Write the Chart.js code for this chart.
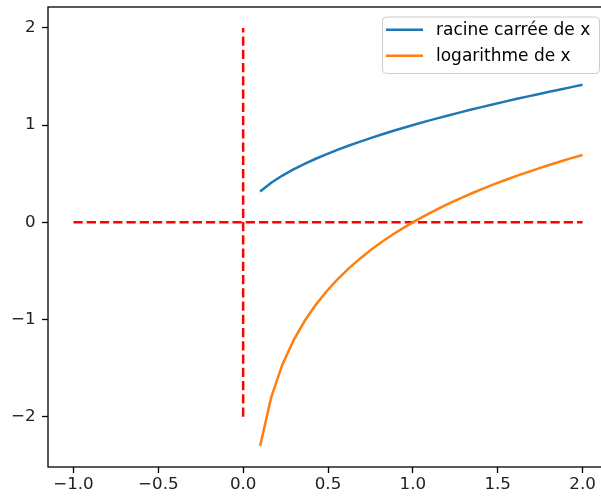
<!DOCTYPE html>
<html lang="fr">
<head>
  <meta charset="UTF-8">
  <title>Racine carrée et logarithme</title>
  <script src="https://cdn.jsdelivr.net/npm/chart.js"></script>
  <style>
    html, body {
      margin: 0;
      padding: 0;
      background: #ffffff;
      overflow: hidden;
    }
    #wrap {
      width: 601px;
      height: 498px;
      overflow: hidden;
    }
    #chart {
      display: block;
    }
  </style>
</head>
<body>
  <div id="wrap">
    <canvas id="chart" width="612" height="498"></canvas>
  </div>

  <script>
    // x values (0.1 .. 2.0, 30 points)
    const xs = [0.1000, 0.1655, 0.2310, 0.2966, 0.3621, 0.4276, 0.4931, 0.5586, 0.6241, 0.6897,
                0.7552, 0.8207, 0.8862, 0.9517, 1.0172, 1.0828, 1.1483, 1.2138, 1.2793, 1.3448,
                1.4103, 1.4759, 1.5414, 1.6069, 1.6724, 1.7379, 1.8034, 1.8690, 1.9345, 2.0000];
    const sqrtVals = [0.3162, 0.4069, 0.4807, 0.5446, 0.6017, 0.6539, 0.7022, 0.7474, 0.7900, 0.8305,
                      0.8690, 0.9059, 0.9414, 0.9756, 1.0086, 1.0406, 1.0716, 1.1017, 1.1311, 1.1597,
                      1.1876, 1.2149, 1.2415, 1.2676, 1.2932, 1.3183, 1.3429, 1.3671, 1.3909, 1.4142];
    const logVals = [-2.3026, -1.7989, -1.4652, -1.2155, -1.0159, -0.8496, -0.7070, -0.5823, -0.4714, -0.3716,
                     -0.2808, -0.1976, -0.1208, -0.0495, 0.0171, 0.0796, 0.1383, 0.1938, 0.2464, 0.2963,
                     0.3438, 0.3893, 0.4327, 0.4743, 0.5143, 0.5527, 0.5897, 0.6254, 0.6598, 0.6931];

    // red dashed reference lines
    const hLineX = [-1, 2];
    const hLineY = [0, 0];
    const vLineX = [0, 0];
    const vLineY = [-2, 2];

    const xTicks = [-1.0, -0.5, 0.0, 0.5, 1.0, 1.5, 2.0];
    const yTicks = [-2, -1, 0, 1, 2];

    const labels = ['racine carrée de x', 'logarithme de x'];

    const toPoints = (xa, ya) => xa.map((x, i) => ({ x: x, y: ya[i] }));
    const minus = s => s.replace('-', '\u2212');

    const font = { family: 'DejaVu Sans', size: 16.7 };
    const dash = [9.25, 4];

    // left, top and bottom spines; the right one sits past the visible area
    const framePlugin = {
      id: 'frame',
      afterDraw(chart) {
        const a = chart.chartArea;
        const c = chart.ctx;
        c.save();
        c.strokeStyle = '#000';
        c.lineWidth = 1.3;
        c.strokeRect(a.left, a.top, a.right - a.left, a.bottom - a.top);
        c.restore();
      }
    };

    // legend in the upper right corner
    const legendPlugin = {
      id: 'mplLegend',
      afterDraw(chart) {
        const c = chart.ctx;
        const items = chart.data.datasets.filter(d => d.label);
        const x0 = 382, y0 = 16.5, w = 217, h = 56.5;
        c.save();
        c.fillStyle = 'rgba(255,255,255,0.8)';
        c.strokeStyle = '#cccccc';
        c.lineWidth = 1;
        c.beginPath();
        c.roundRect(x0 + 0.5, y0 + 0.5, w, h, 4);
        c.fill();
        c.stroke();
        c.font = '17px "DejaVu Sans"';
        c.textBaseline = 'middle';
        items.forEach((d, i) => {
          const y = 29.7 + i * 26;
          c.strokeStyle = d.borderColor;
          c.lineWidth = 2.5;
          c.beginPath();
          c.moveTo(386, y);
          c.lineTo(423, y);
          c.stroke();
          c.fillStyle = '#000';
          c.fillText(d.label, 436, y + 1);
        });
        c.restore();
      }
    };

    const ctx = document.getElementById('chart').getContext('2d');

    new Chart(ctx, {
      type: 'scatter',
      data: {
        datasets: [
          {
            label: labels[0],
            data: toPoints(xs, sqrtVals),
            showLine: true,
            borderColor: '#1f77b4',
            borderWidth: 2.5,
            pointRadius: 0,
            fill: false
          },
          {
            label: labels[1],
            data: toPoints(xs, logVals),
            showLine: true,
            borderColor: '#ff7f0e',
            borderWidth: 2.5,
            pointRadius: 0,
            fill: false
          },
          {
            data: toPoints(hLineX, hLineY),
            showLine: true,
            borderColor: '#ff0000',
            borderWidth: 2.5,
            borderDash: dash,
            pointRadius: 0
          },
          {
            data: toPoints(vLineX, vLineY),
            showLine: true,
            borderColor: '#ff0000',
            borderWidth: 2.5,
            borderDash: dash,
            pointRadius: 0
          }
        ]
      },
      options: {
        responsive: false,
        animation: false,
        layout: {
          padding: { top: 7, right: 4, left: 0, bottom: 0 }
        },
        plugins: {
          legend: { display: false },
          tooltip: { enabled: false }
        },
        scales: {
          x: {
            type: 'linear',
            min: -1.15,
            max: 2.15,
            afterBuildTicks: s => { s.ticks = xTicks.map(v => ({ value: v })); },
            afterFit: s => {
              s.height = 31;
              s.paddingLeft = 0;
              s.paddingRight = 0;
            },
            grid: {
              drawOnChartArea: false,
              drawTicks: true,
              tickLength: 6,
              tickColor: '#000',
              tickWidth: 1.3
            },
            border: { display: false },
            ticks: {
              color: '#222',
              font: font,
              padding: 2,
              maxRotation: 0,
              callback: v => minus(v.toFixed(1))
            }
          },
          y: {
            type: 'linear',
            min: -2.5177,
            max: 2.2151,
            afterBuildTicks: s => { s.ticks = yTicks.map(v => ({ value: v })); },
            afterFit: s => {
              s.width = 48;
              s.paddingTop = 0;
              s.paddingBottom = 0;
            },
            grid: {
              drawOnChartArea: false,
              drawTicks: true,
              tickLength: 6,
              tickColor: '#000',
              tickWidth: 1.3
            },
            border: { display: false },
            ticks: {
              color: '#222',
              font: font,
              padding: 6.5,
              callback: v => minus(String(v))
            }
          }
        }
      },
      plugins: [framePlugin, legendPlugin]
    });
  </script>
</body>
</html>
